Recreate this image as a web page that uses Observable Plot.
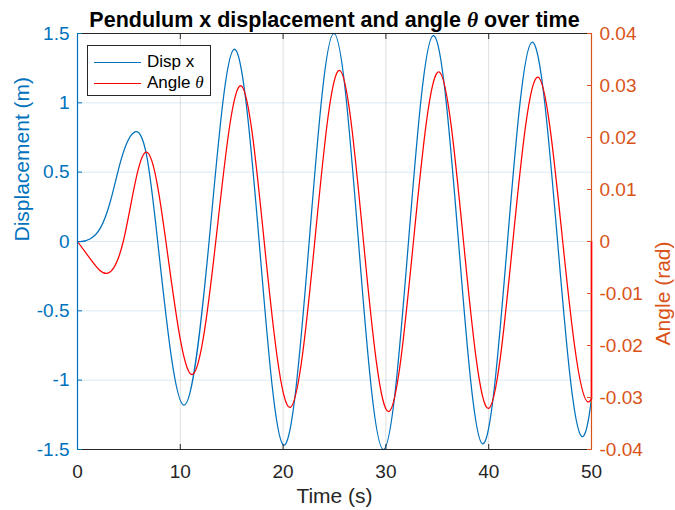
<!DOCTYPE html>
<html><head><meta charset="utf-8">
<script src="https://cdn.jsdelivr.net/npm/d3@7"></script>
<script src="https://cdn.jsdelivr.net/npm/@observablehq/plot@0.6"></script>
<style>
body{margin:0;background:#fff;font-family:"Liberation Sans",Arial,sans-serif;}
#wrap{position:relative;width:675px;height:510px;}
#legend{position:absolute;left:87px;top:45px;width:122px;height:49px;border:1px solid #262626;background:#fff;font-size:17px;color:#000;}
.row{position:absolute;left:0;height:20px;line-height:20px;}
.sw{position:absolute;left:6px;top:10px;width:47px;height:0;border-top:1.3px solid;}
.lb{position:absolute;left:59px;top:0;white-space:nowrap;}
.th{font-family:"Liberation Serif",serif;font-style:italic;}
</style></head><body><div id="wrap"></div>
<script>
// ---- data ----
const dispTime  = [0, 1.25, 2.25, 3.2, 4.2, 5.45, 6.75, 7.8, 10.35, 12.8, 15.2, 17.67, 20.0, 22.54, 24.95, 27.33, 29.75, 32.2, 34.6, 37.06, 39.4, 41.83, 44.2, 46.7, 49.05, 50];
const dispValue = [0, 0.02, 0.10, 0.29, 0.58, 0.785, 0.61, 0, -1.18, 0, 1.385, 0, -1.466, 0, 1.50, 0, -1.50, 0, 1.485, 0, -1.46, 0, 1.437, 0, -1.406, -1.13];
const angleTime  = [0, 1.3, 2.95, 4.45, 5.8, 6.65, 7.75, 8.6, 11.25, 13.45, 15.95, 18.16, 20.7, 23.08, 25.5, 27.82, 30.3, 32.68, 35.2, 37.55, 40.0, 42.35, 44.8, 47.2, 49.6, 50, 50];
const angleValue = [0, -0.0035, -0.0061, 0, 0.013, 0.0172, 0.0111, 0, -0.0255, 0, 0.0299, 0, -0.0319, 0, 0.0329, 0, -0.0327, 0, 0.0326, 0, -0.0321, 0, 0.0316, 0, -0.0308, -0.0302, 0];
const xTicks = [0, 10, 20, 30, 40, 50];
const xTickLabels = ["0", "10", "20", "30", "40", "50"];
const dispTicks = [-1.5, -1, -0.5, 0, 0.5, 1, 1.5];
const dispTickLabels = ["-1.5", "-1", "-0.5", "0", "0.5", "1", "1.5"];
const angleTicks = [-0.04, -0.03, -0.02, -0.01, 0, 0.01, 0.02, 0.03, 0.04];
const angleTickLabels = ["-0.04", "-0.03", "-0.02", "-0.01", "0", "0.01", "0.02", "0.03", "0.04"];
const legendLabels = ["Disp x", "Angle θ"];
const titleText = "Pendulum x displacement and angle θ over time";
const xLabel = "Time (s)";
const yLeftLabel = "Displacement (m)";
const yRightLabel = "Angle (rad)";

// ---- curve: cubic spline y(x) with parabolic run-out ends ----
function splineX(context) {
  let xs, ys;
  return {
    areaStart() {}, areaEnd() {},
    lineStart() { xs = []; ys = []; },
    point(x, y) { xs.push(+x); ys.push(+y); },
    lineEnd() {
      const n = xs.length;
      if (!n) return;
      context.moveTo(xs[0], ys[0]);
      if (n === 1) return;
      if (n === 2) { context.lineTo(xs[1], ys[1]); return; }
      const h = [], M = new Array(n).fill(0);
      for (let i = 0; i < n - 1; i++) h.push(xs[i + 1] - xs[i]);
      const m = n - 2, a = [], b = [], c = [], d = [];
      for (let k = 0; k < m; k++) {
        const i = k + 1;
        a[k] = h[i - 1]; b[k] = 2 * (h[i - 1] + h[i]); c[k] = h[i];
        d[k] = 6 * ((ys[i + 1] - ys[i]) / h[i] - (ys[i] - ys[i - 1]) / h[i - 1]);
      }
      b[0] += a[0]; a[0] = 0;
      b[m - 1] += c[m - 1]; c[m - 1] = 0;
      for (let k = 1; k < m; k++) { const w = a[k] / b[k - 1]; b[k] -= w * c[k - 1]; d[k] -= w * d[k - 1]; }
      const sol = new Array(m);
      sol[m - 1] = d[m - 1] / b[m - 1];
      for (let k = m - 2; k >= 0; k--) sol[k] = (d[k] - c[k] * sol[k + 1]) / b[k];
      for (let k = 0; k < m; k++) M[k + 1] = sol[k];
      M[0] = M[1]; M[n - 1] = M[n - 2];
      for (let i = 0; i < n - 1; i++) {
        const hi = h[i], s = (ys[i + 1] - ys[i]) / hi;
        const d0 = s - hi * (2 * M[i] + M[i + 1]) / 6;
        const d1 = s + hi * (M[i] + 2 * M[i + 1]) / 6;
        context.bezierCurveTo(xs[i] + hi / 3, ys[i] + d0 * hi / 3, xs[i + 1] - hi / 3, ys[i + 1] - d1 * hi / 3, xs[i + 1], ys[i + 1]);
      }
    }
  };
}

// ---- build ----
const BLUE = "#0072BD", ORANGE = "#D95319", RED = "#FF0000", DARK = "#262626";
const dispDomain = [-1.5, 1.5], angleDomain = [-0.04, 0.04];
const xDomain = [xTicks[0], xTicks[xTicks.length - 1]];
const K = dispDomain[1] / angleDomain[1];

const disp = dispTime.map((t, i) => ({t, v: dispValue[i]}));
const angle = angleTime.map((t, i) => ({t, v: angleValue[i]}));
const angleMain = angle.slice(0, -1);
const angleTail = angle.slice(-2);

const fmtX = d => xTickLabels[xTicks.indexOf(d)];
const fmtL = d => dispTickLabels[dispTicks.indexOf(d)];
const fmtR = d => angleTickLabels[angleTicks.findIndex(a => Math.abs(a * K - d) < 1e-9)];
const angleTickPos = angleTicks.map(a => a * K);
const inner = xTicks.slice(1, -1);

const svg = Plot.plot({
  width: 675, height: 510,
  marginLeft: 77, marginRight: 84, marginTop: 33, marginBottom: 61,
  style: {fontFamily: "'Liberation Sans', Arial, sans-serif", fontSize: "19px", background: "white", overflow: "visible"},
  x: {domain: xDomain, axis: null},
  y: {domain: dispDomain, axis: null},
  marks: [
    Plot.gridX(inner, {stroke: DARK, strokeOpacity: 0.15, strokeWidth: 1}),
    Plot.gridY(dispTicks.slice(1, -1), {stroke: BLUE, strokeOpacity: 0.15, strokeWidth: 1}),
    Plot.line(disp, {x: "t", y: "v", stroke: BLUE, strokeWidth: 1.25, curve: splineX}),
    Plot.ruleX([xDomain[1]], {stroke: ORANGE, strokeWidth: 1.2}),
    Plot.line(angleMain, {x: "t", y: d => d.v * K, stroke: RED, strokeWidth: 1.25, curve: splineX}),
    Plot.line(angleTail, {x: "t", y: d => d.v * K, stroke: RED, strokeWidth: 1.6}),
    // frame lines
    Plot.ruleY([dispDomain[0]], {stroke: DARK, strokeWidth: 1.2}),
    Plot.ruleY([dispDomain[1]], {stroke: DARK, strokeWidth: 1.2}),
    Plot.ruleX([xDomain[0]], {stroke: BLUE, strokeWidth: 1.2}),
    // x ticks (inward) bottom and top
    Plot.axisX(inner, {anchor: "bottom", tickSize: 5, dy: -5, tickFormat: () => "", label: null, stroke: DARK}),
    Plot.axisX(inner, {anchor: "top", tickSize: 5, dy: 5, tickFormat: () => "", label: null, stroke: DARK}),
    Plot.axisX(xTicks, {anchor: "bottom", tickSize: 0, tickPadding: 15, tickFormat: fmtX, label: null, fill: DARK, fontSize: 19}),
    // left axis
    Plot.axisY(dispTicks, {anchor: "left", tickSize: 5, dx: 5, tickFormat: () => "", label: null, stroke: BLUE}),
    Plot.axisY(dispTicks, {anchor: "left", tickSize: 0, tickPadding: 8, tickFormat: fmtL, label: null, fill: BLUE, fontSize: 19}),
    // right axis
    Plot.axisY(angleTickPos, {anchor: "right", tickSize: 5, dx: -5, tickFormat: () => "", label: null, stroke: ORANGE}),
    Plot.axisY(angleTickPos, {anchor: "right", tickSize: 0, tickPadding: 8, tickFormat: fmtR, label: null, fill: ORANGE, fontSize: 19}),
    // labels
    Plot.text([titleText], {frameAnchor: "top", dy: -22, fontSize: 21.5, fontWeight: "bold", fill: "#000"}),
    Plot.text([xLabel], {frameAnchor: "bottom", dy: 53, fontSize: 21, fill: DARK}),
    Plot.text([yLeftLabel], {frameAnchor: "left", dx: -55, rotate: -90, fontSize: 21, fill: BLUE}),
    Plot.text([yRightLabel], {frameAnchor: "right", dx: 72, rotate: -90, fontSize: 21, fill: ORANGE})
  ]
});

d3.select(svg).selectAll("text").each(function () {
  const t = this.textContent;
  if (t.includes("θ") && this.querySelector("tspan") === null) {
    const parts = t.split("θ");
    const sel = d3.select(this);
    sel.text(null);
    sel.append("tspan").text(parts[0]);
    sel.append("tspan").attr("font-style", "italic").attr("font-family", "'Liberation Serif', serif").text("θ");
    sel.append("tspan").text(parts[1]);
  }
});

const wrap = document.getElementById("wrap");
wrap.appendChild(svg);

const legend = document.createElement("div");
legend.id = "legend";
const colors = [BLUE, RED];
legendLabels.forEach((lab, i) => {
  const row = document.createElement("div");
  row.className = "row";
  row.style.top = (6 + i * 21) + "px";
  row.style.width = "120px";
  const sw = document.createElement("div");
  sw.className = "sw";
  sw.style.borderTopColor = colors[i];
  const lb = document.createElement("div");
  lb.className = "lb";
  if (lab.includes("θ")) {
    const p = lab.split("θ");
    lb.append(p[0]);
    const s = document.createElement("span"); s.className = "th"; s.textContent = "θ"; lb.append(s);
    lb.append(p[1]);
  } else lb.textContent = lab;
  row.appendChild(sw); row.appendChild(lb);
  legend.appendChild(row);
});
wrap.appendChild(legend);
</script></body></html>
